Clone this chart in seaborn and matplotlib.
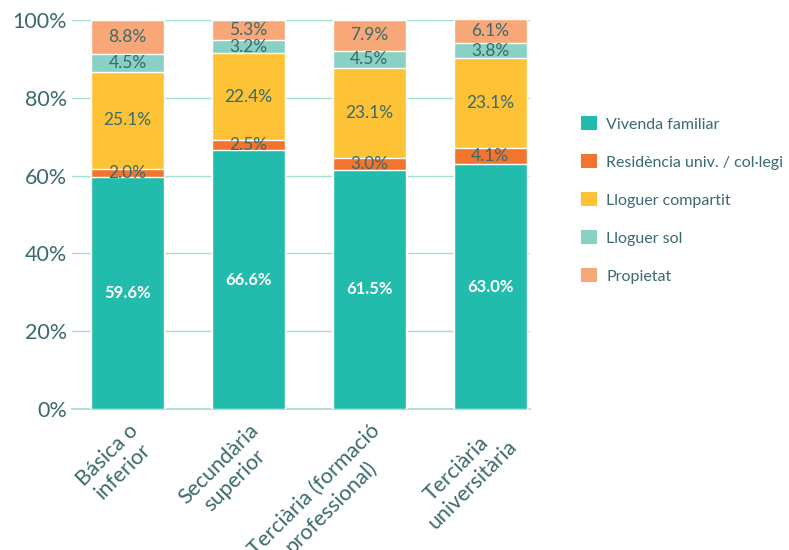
import numpy as np
import pandas as pd
import matplotlib
matplotlib.use("Agg")
import matplotlib.pyplot as plt
import seaborn as sns
from matplotlib.patches import Patch

# data
categories = ["Básica o\ninferior", "Secundària\nsuperior",
              "Terciària (formació\nprofessional)", "Terciària\nuniversitària"]
series = ["Vivenda familiar", "Residència univ. / col·legi", "Lloguer compartit",
          "Lloguer sol", "Propietat"]
vivenda = [59.6, 66.6, 61.5, 63.0]
residencia = [2.0, 2.5, 3.0, 4.1]
compartit = [25.1, 22.4, 23.1, 23.1]
sol = [4.5, 3.2, 4.5, 3.8]
propietat = [8.8, 5.3, 7.9, 6.1]

colors = ["#22bcad", "#f1742f", "#fdc236", "#88d1c4", "#f8a878"]
text_col = "#3b6a6c"

sns.set_theme(style="white")
plt.rcParams['font.family'] = ['Lato', 'DejaVu Sans']

values = np.array([vivenda, residencia, compartit, sol, propietat])
cum = values.cumsum(axis=0)

fig = plt.figure(figsize=(7.89, 5.5), dpi=100)
ax = fig.add_axes([0.091, 0.256, 0.581, 0.708])

# draw cumulative totals from the top down so each layer covers the one above
for i in range(len(series) - 1, -1, -1):
    df = pd.DataFrame({"cat": categories, "val": cum[i]})
    sns.barplot(data=df, x="cat", y="val", color=colors[i], width=0.6,
                saturation=1, ax=ax, zorder=3)

# segment labels
for j in range(len(categories)):
    for i in range(len(series)):
        mid = cum[i, j] - values[i, j] / 2
        if i == 0:
            ax.text(j, mid, f"{values[i, j]:.1f}%", ha="center", va="center",
                    color="white", fontsize=12, fontweight="bold", zorder=5)
        else:
            ax.text(j, mid, f"{values[i, j]:.1f}%", ha="center", va="center",
                    color=text_col, fontsize=12.5, zorder=5)

ax.set_xlim(-0.46, 3.33)
ax.set_ylim(0, 100)
ax.set_yticks([0, 20, 40, 60, 80, 100])
ax.set_yticklabels([f"{v}%" for v in [0, 20, 40, 60, 80, 100]])
ax.yaxis.grid(True, color="#a6dcd5", linewidth=1, zorder=0)
ax.set_axisbelow(True)
ax.set_xlabel("")
ax.set_ylabel("")
ax.tick_params(axis="both", length=0, labelsize=15.5, colors=text_col)
ax.tick_params(axis="x", pad=8)
for lab in ax.get_xticklabels():
    lab.set_rotation(45)
    lab.set_ha("right")
    lab.set_rotation_mode("anchor")
    lab.set_multialignment("center")
for s in ["top", "right", "left"]:
    ax.spines[s].set_visible(False)
ax.spines["bottom"].set_color("#a6dcd5")

handles = [Patch(facecolor=c, edgecolor="none") for c in colors]
leg = fig.legend(handles, series, loc="upper left", bbox_to_anchor=(0.718, 0.815),
                 frameon=False, fontsize=11.5, handlelength=1.0, handleheight=1.0,
                 labelspacing=1.4, handletextpad=0.6, labelcolor=text_col)

fig.savefig("out.png", dpi=100)
